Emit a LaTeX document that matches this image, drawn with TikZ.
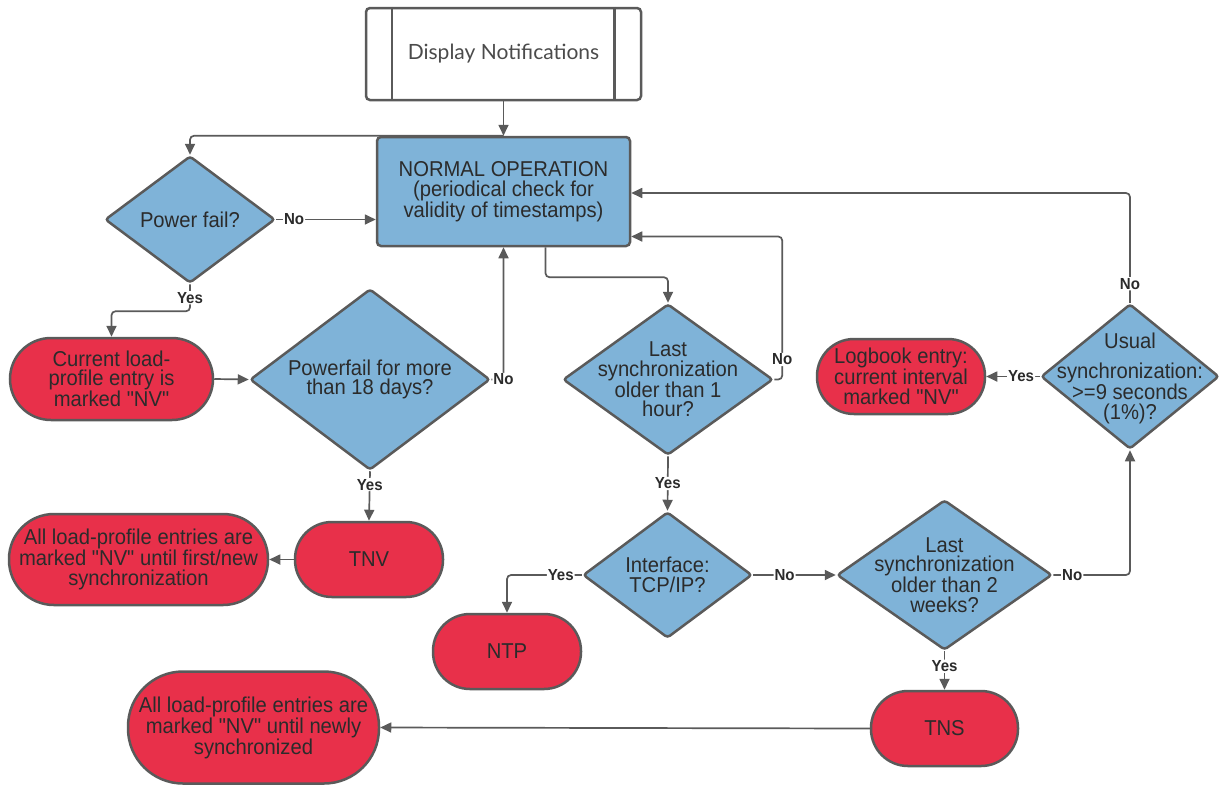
\documentclass[tikz,border=0pt]{standalone}
\usepackage{fontspec}
\setmainfont{Liberation Sans}[FakeStretch=0.94, Ligatures=TeXOff]
\newfontfamily\dispfont{Lato}
\usetikzlibrary{shapes.geometric,arrows.meta}
\definecolor{blueF}{HTML}{7FB3D8}
\definecolor{redF}{HTML}{E8304A}
\definecolor{lineg}{HTML}{5A5A5A}
\definecolor{txt}{HTML}{2B2B2B}
\newcommand\myMainFs{\fontsize{21.5}{19.5}\selectfont}
\newcommand\myLblFs{\fontsize{16}{16}\selectfont\bfseries}
\newcommand\qd{\symbol{34}}
\begin{document}
\begin{tikzpicture}[x=1pt,y=-1pt,
  box/.style={draw=lineg, line width=2.5pt, fill=blueF, rounded corners=4pt, inner sep=0pt, align=center, text=txt, font=\myMainFs},
  dispbox/.style={draw=lineg, line width=2.5pt, fill=white, rounded corners=4pt, inner sep=0pt, align=center, text=txt!85, font=\dispfont\fontsize{21}{22}\selectfont},
  dia/.style={diamond, draw=lineg, line width=2.5pt, fill=blueF, rounded corners=3pt, inner sep=0pt},
  term/.style={draw=lineg, line width=2.5pt, fill=redF, inner sep=0pt, align=center, text=txt, font=\myMainFs},
  dtext/.style={align=center, text=txt, font=\myMainFs, inner sep=0pt},
  arr/.style={draw=lineg, line width=1.7pt, -{Triangle[length=11pt,width=10pt]}, rounded corners=4pt},
  lbl/.style={fill=white, inner sep=1pt, font=\myLblFs, text=txt}
]
\useasboundingbox (0,0) rectangle (1220,785);

% nodes
\node[dispbox, minimum width=275pt, minimum height=92pt] (disp) at (503.5,54) {Display Notifications};
\draw[lineg, line width=2.5pt] ([xshift=27pt]disp.north west) -- ([xshift=27pt]disp.south west);
\draw[lineg, line width=2.5pt] ([xshift=-28pt]disp.north east) -- ([xshift=-28pt]disp.south east);

\node[box, minimum width=253pt, minimum height=109pt] (normal) at (503.5,191.5)
  {NORMAL OPERATION\\(periodical check for\\validity of timestamps)};

\node[dia, minimum width=170pt, minimum height=127pt] (pf) at (190,219.5) {};
\node[dtext] (pft) at (pf) {Power fail?};

\node[term, minimum width=203pt, minimum height=82pt, rounded corners=41pt] (cur) at (111.5,379)
  {Current load-\\profile entry is\\marked \qd NV\qd};

\node[dia, minimum width=240pt, minimum height=181pt] (p18) at (370,379.5) {};
\node[dtext] (p18t) at (p18) {Powerfail for more\\than 18 days?};

\node[term, minimum width=148pt, minimum height=75pt, rounded corners=37pt] (tnv) at (369,559.5) {TNV};

\node[term, minimum width=259pt, minimum height=91pt, rounded corners=45pt] (first) at (138.5,559.5)
  {All load-profile entries are\\marked \qd NV\qd{} until first/new\\synchronization};

\node[dia, minimum width=210pt, minimum height=151pt] (l1h) at (668,379.5) {};
\node[dtext] (l1ht) at (l1h) {Last\\synchronization\\older than 1\\hour?};

\node[dia, minimum width=169pt, minimum height=126pt] (iface) at (667.5,575) {};
\node[dtext] (ifacet) at (iface) {Interface:\\TCP/IP?};

\node[term, minimum width=148pt, minimum height=75pt, rounded corners=37pt] (ntp) at (507,651.5) {NTP};

\node[dia, minimum width=215pt, minimum height=150pt] (l2w) at (944.5,575) {};
\node[dtext] (l2wt) at (l2w) {Last\\synchronization\\older than 2\\weeks?};

\node[term, minimum width=147pt, minimum height=75pt, rounded corners=37pt] (tns) at (944.5,728.5) {TNS};

\node[term, minimum width=251pt, minimum height=112pt, rounded corners=55pt] (newly) at (253.5,727.5)
  {All load-profile entries are\\marked \qd NV\qd{} until newly\\synchronized};

\node[dia, minimum width=178pt, minimum height=145pt] (usual) at (1130,376.5) {};
\node[dtext] (usualt) at (1130,378) {Usual\\[11pt]synchronization:\\>=9 seconds\\(1\%)?};

\node[term, minimum width=168pt, minimum height=75pt, rounded corners=37pt] (logb) at (901,376.5)
  {Logbook entry:\\current interval\\marked \qd NV\qd};

% connectors
\draw[arr] (disp.south) -- (normal.north);
\draw[arr] (normal.north) -| (pf.north);
\draw[arr] (pf.east) -- node[lbl, pos=0.18]{No} (normal.west |- pf.east);
\draw[arr] (pf.south) -- ++(0,27) node[lbl, pos=0.5]{Yes} -| (cur.north);
\draw[arr] (cur.east) -- (p18.west);
\draw[arr] (p18.east) -| node[lbl, pos=0.5]{No} (normal.south);
\draw[arr] (p18.south) -- node[lbl, pos=0.27]{Yes} (tnv.north);
\draw[arr] (tnv.west) -- (first.east);
\draw[arr] ([xshift=42pt]normal.south) -- ++(0,30) -| (l1h.north);
\draw[arr] (l1h.east) -- ++(8,0) -- ++(0,-20) node[lbl]{No} |- ([yshift=-45pt]normal.east);
\draw[arr] (l1h.south) -- node[lbl, pos=0.5]{Yes} (iface.north);
\draw[arr] (iface.west) -- ++(-21,0) node[lbl]{Yes} -| (ntp.north);
\draw[arr] (iface.east) -- node[lbl, pos=0.38]{No} (l2w.west);
\draw[arr] (l2w.east) -- ++(19,0) node[lbl]{No} -| (usual.south);
\draw[arr] (l2w.south) -- node[lbl, pos=0.39]{Yes} (tns.north);
\draw[arr] (tns.west) -- (newly.east);
\draw[arr] (usual.west) -- node[lbl, pos=0.35]{Yes} (logb.east);
\draw[arr] (usual.north) -- ++(0,-19) node[lbl]{No} |- ([yshift=-1.5pt]normal.east);
\end{tikzpicture}
\end{document}
